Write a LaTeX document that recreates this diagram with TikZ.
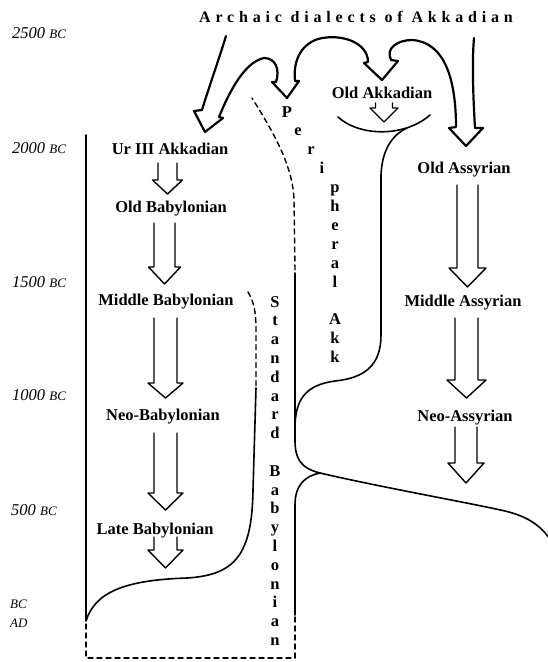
\documentclass[tikz,border=0pt]{standalone}
\usepackage{fontspec}
\setmainfont{Liberation Serif}
\usetikzlibrary{calc}
\begin{document}
\begin{tikzpicture}[x=1pt,y=-1pt,line join=round,line cap=round,
  lbl/.style={font=\fontsize{16.5}{18}\selectfont\bfseries,anchor=base,inner sep=0pt},
  ltr/.style={font=\fontsize{16.5}{18}\selectfont\bfseries,anchor=base,inner sep=0pt},
  yr/.style={font=\fontsize{16.5}{18}\selectfont\itshape,anchor=base west,inner sep=0pt},
  ttl/.style={font=\fontsize{16}{18}\selectfont\bfseries\addfontfeature{LetterSpace=30},anchor=base,inner sep=0pt},
  ln/.style={line width=1.6pt},
  big/.style={line width=2.2pt},
  dsh/.style={line width=1.4pt,dash pattern=on 5pt off 4pt},
  hollow/.style n args={3}{line width=1.4pt,to path={let \p1=(\tikztostart), \p2=(\tikztotarget) in
    ({\x1-#1},\y1) -- ({\x1-#1},{\y2+#3}) -- ({\x1-#2},{\y2+#3}) -- (\x1,\y2) -- ({\x1+#2},{\y2+#3}) -- ({\x1+#1},{\y2+#3}) -- ({\x1+#1},\y1)}},
]
\fill[white] (0,0) rectangle (548,662);
\useasboundingbox (0,0) rectangle (548,662);

% title
\node[ttl] (title) at (356,22) {Archaic dialects of Akkadian};

% year labels
\newcommand{\smbc}[1]{{\fontsize{13}{14}\selectfont #1}}
\node[yr] (y2500) at (12,38) {2500 \smbc{BC}};
\node[yr] (y2000) at (12,153) {2000 \smbc{BC}};
\node[yr] (y1500) at (12,287) {1500 \smbc{BC}};
\node[yr] (y1000) at (12,400) {1000 \smbc{BC}};
\node[yr] (y500) at (11,515) {500 \smbc{BC}};
\node[yr] (ybc) at (10,608) {\smbc{BC}};
\node[yr] (yad) at (10,627) {\smbc{AD}};

% dialect labels
\node[lbl] (ur) at (170,154) {Ur III Akkadian};
\node[lbl] (ob) at (171,212) {Old Babylonian};
\node[lbl] (mb) at (166,305) {Middle Babylonian};
\node[lbl] (nb) at (163,420) {Neo-Babylonian};
\node[lbl] (lb) at (155,534) {Late Babylonian};
\node[lbl] (oak) at (382,98) {Old Akkadian};
\node[lbl] (oa) at (464,173) {Old Assyrian};
\node[lbl] (ma) at (463,306) {Middle Assyrian};
\node[lbl] (na) at (465,421) {Neo-Assyrian};

% vertical texts
\foreach \ch/\xx [count=\i from 0] in {P/287,e/298,r/311,i/322,p/335,h/335,e/335,r/335,a/335,l/335}
  \node[ltr] (pa\i) at (\xx,{117+18.9*\i}) {\ch};
\foreach \ch [count=\i from 11] in {A,k,k}
  \node[ltr] (pb\i) at (335,{117+18.9*\i}) {\ch};
\foreach \ch [count=\i from 0] in {S,t,a,n,d,a,r,d}
  \node[ltr] (sa\i) at (275,{307+18.8*\i}) {\ch};
\foreach \ch [count=\i from 9] in {B,a,b,y,l,o,n,i,a,n}
  \node[ltr] (sb\i) at (275,{307+18.8*\i}) {\ch};

% free arrow ends
\coordinate (lbend) at (165.5,568);
\coordinate (naend) at (466,483);
\coordinate (oakend) at (384,122);

% hollow arrows
\draw[hollow={9.5pt}{15pt}{14pt}] ([shift={(-2.5,9)}]ur.base) to ([shift={(-3.5,-18)}]ob.base);
\draw[hollow={10.5pt}{16pt}{17pt}] ([shift={(-6.5,11)}]ob.base) to ([shift={(-1.5,-21)}]mb.base);
\draw[hollow={11.5pt}{17.5pt}{15pt}] ([shift={(-0.5,13)}]mb.base) to ([shift={(2.5,-22)}]nb.base);
\draw[hollow={11.5pt}{17.5pt}{17pt}] ([shift={(2.5,13)}]nb.base) to ([shift={(10.5,-24)}]lb.base);
\draw[hollow={11.5pt}{17.5pt}{18pt}] ([shift={(10.5,3)}]lb.base) to (lbend);
\draw[hollow={10.5pt}{18.5pt}{19pt}] ([shift={(3.5,12)}]oa.base) to ([shift={(4.5,-19)}]ma.base);
\draw[hollow={11.5pt}{19.5pt}{18pt}] ([shift={(3.5,12)}]ma.base) to ([shift={(1.5,-23)}]na.base);
\draw[hollow={11pt}{18pt}{20pt}] ([shift={(1,6)}]na.base) to (naend);
\draw[hollow={8.5pt}{14pt}{14pt}] ([shift={(2,5)}]oak.base) to (oakend);

% big branching arrow from the archaic dialects
\draw[big] (226,36) .. controls (218,62) and (208,90) .. (202,110)
  -- (194,111) -- (205,132) -- (223,118) -- (219,117)
  .. controls (230,90) and (245,62) .. (264,58)
  .. controls (276,58) and (280,70) .. (276,82)
  -- (272,82) -- (287,98) -- (299,81) -- (295,81)
  .. controls (293,62) and (300,45) .. (318,39)
  .. controls (340,33) and (368,42) .. (368,62)
  -- (364,63) -- (382,80) -- (398,61) -- (391,60)
  .. controls (385,48) and (398,40) .. (412,40)
  .. controls (445,42) and (456,80) .. (456,127)
  -- (449,128) -- (466,146) -- (483,128) -- (475,128)
  .. controls (473,95) and (472,60) .. (474,38);

% Babylonian area
\draw[ln] (86,135) -- (86,621)
  .. controls (95,592) and (125,580) .. (187,578)
  .. controls (235,575) and (252,555) .. (253,490) -- (256,388);
\draw[dsh] (248,292) .. controls (254,302) and (256,312) .. (256,330) -- (256,386);
\draw[dsh] (86,624) -- (86,658) -- (295,658) -- (295,616);

% Standard Babylonian / Peripheral boundaries
\draw[ln] (295,615) -- (295,505) .. controls (295,485) and (305,476) .. (320,473);
\draw[ln] (320,473) .. controls (300,468) and (295,458) .. (295,440) -- (295,273);
\draw[dsh] (295,270) -- (294,200) .. controls (293,165) and (272,130) .. (252,98);
\draw[ln] (320,473) .. controls (380,487) and (470,503) .. (505,511)
  .. controls (530,517) and (542,527) .. (552,542);

% Old Akkadian bowl and peripheral boundary
\draw[ln] (338,117) .. controls (360,137) and (405,137) .. (430,115);
\draw[ln] (407,128) .. controls (392,135) and (382,150) .. (381,175) -- (381,335)
  .. controls (381,365) and (365,378) .. (335,381)
  .. controls (305,385) and (296,400) .. (295,425);
\end{tikzpicture}
\end{document}
